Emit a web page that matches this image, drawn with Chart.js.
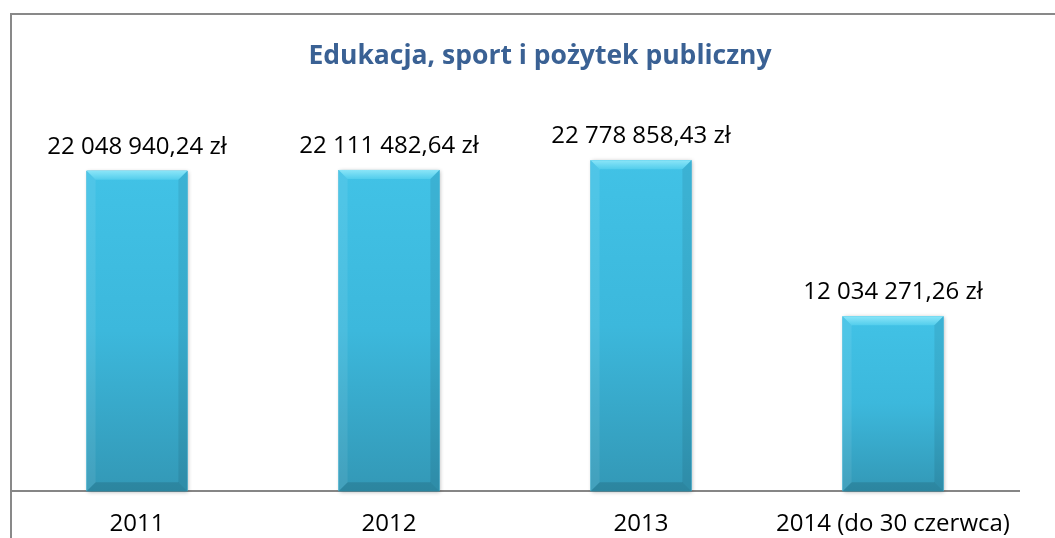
<!DOCTYPE html>
<html lang="pl">
<head>
<meta charset="utf-8">
<title>Edukacja, sport i pożytek publiczny</title>
<script src="https://cdn.jsdelivr.net/npm/chart.js@4"></script>
<style>
	html, body { margin: 0; padding: 0; background: #ffffff; }
	#wrap { position: relative; width: 1055px; height: 538px; }
</style>
</head>
<body>
<div id="wrap"><canvas id="wydatkiChart" width="1055" height="538"></canvas></div>
<script>
// Dane
const tytul = "Edukacja, sport i pożytek publiczny";
const lata = ["2011", "2012", "2013", "2014 (do 30 czerwca)"];
const kwoty = [22048940.24, 22111482.64, 22778858.43, 12034271.26];
const osY = { min: 0, max: 25000000 };

/**
 * Formatuje kwotę w stylu polskim, np. "22 048 940,24 zł".
 * @param {number} v
 * @returns {string}
 */
function formatZl(v) {
	const [calosc, grosze] = v.toFixed(2).split(".");
	return calosc.replace(/\B(?=(\d{3})+(?!\d))/g, " ") + "," + grosze + " zł";
}

// Ramka wykresu (lewa i górna krawędź) + tytuł
const ramka = {
	id: "ramka",
	beforeDraw(chart) {
		const ctx = chart.ctx;
		ctx.save();
		ctx.strokeStyle = "#898989";
		ctx.lineWidth = 2;
		ctx.beginPath();
		ctx.moveTo(11, chart.height);
		ctx.lineTo(11, 14);
		ctx.lineTo(chart.width, 14);
		ctx.stroke();

		ctx.fillStyle = "#3a6194";
		ctx.font = "bold 26.5px 'Open Sans'";
		ctx.textAlign = "center";
		ctx.textBaseline = "alphabetic";
		ctx.fillText(tytul, 540, 64);
		ctx.restore();
	},
};

// Cień pod słupkami
const cien = {
	id: "cien",
	beforeDatasetsDraw(chart) {
		const ctx = chart.ctx;
		ctx.save();
		chart.getDatasetMeta(0).data.forEach((bar) => {
			const w = bar.width;
			ctx.shadowColor = "rgba(0,0,0,0.3)";
			ctx.shadowBlur = 4;
			ctx.shadowOffsetX = 1;
			ctx.shadowOffsetY = 1;
			ctx.fillStyle = "#3cb6da";
			ctx.fillRect(bar.x - w / 2, bar.y, w, bar.base - bar.y);
		});
		ctx.restore();
	},
};

// Efekt fazowania słupków + etykiety z kwotami
const faza = {
	id: "faza",
	afterDatasetsDraw(chart) {
		const ctx = chart.ctx;
		const b = 9;
		ctx.save();
		chart.getDatasetMeta(0).data.forEach((bar, i) => {
			const l = bar.x - bar.width / 2;
			const r = bar.x + bar.width / 2;
			const t = bar.y;
			const d = bar.base;

			const g = ctx.createLinearGradient(0, t, 0, d);
			g.addColorStop(0, "#41c2e6");
			g.addColorStop(0.5, "#3cb8dc");
			g.addColorStop(1, "#3398b6");
			ctx.fillStyle = g;
			ctx.fillRect(l, t, r - l, d - t);

			// góra
			const gt = ctx.createLinearGradient(0, t, 0, t + b);
			gt.addColorStop(0, "#8ae5f8");
			gt.addColorStop(1, "#52cdec");
			ctx.fillStyle = gt;
			ctx.beginPath();
			ctx.moveTo(l, t);
			ctx.lineTo(r, t);
			ctx.lineTo(r - b, t + b);
			ctx.lineTo(l + b, t + b);
			ctx.closePath();
			ctx.fill();

			// lewa
			ctx.fillStyle = "rgba(255,255,255,0.08)";
			ctx.beginPath();
			ctx.moveTo(l, t);
			ctx.lineTo(l + b, t + b);
			ctx.lineTo(l + b, d - b);
			ctx.lineTo(l, d);
			ctx.closePath();
			ctx.fill();

			// prawa
			ctx.fillStyle = "rgba(0,0,0,0.08)";
			ctx.beginPath();
			ctx.moveTo(r, t);
			ctx.lineTo(r - b, t + b);
			ctx.lineTo(r - b, d - b);
			ctx.lineTo(r, d);
			ctx.closePath();
			ctx.fill();

			// dół
			ctx.fillStyle = "rgba(0,0,0,0.12)";
			ctx.beginPath();
			ctx.moveTo(l, d);
			ctx.lineTo(l + b, d - b);
			ctx.lineTo(r - b, d - b);
			ctx.lineTo(r, d);
			ctx.closePath();
			ctx.fill();

			// etykieta
			ctx.fillStyle = "#000000";
			ctx.font = "24px 'Open Sans'";
			ctx.textAlign = "center";
			ctx.textBaseline = "alphabetic";
			ctx.fillText(formatZl(kwoty[i]), bar.x, t - 17);
		});
		ctx.restore();
	},
};

document.addEventListener("DOMContentLoaded", function () {
	const ctx = document.getElementById("wydatkiChart");
	new Chart(ctx, {
		type: "bar",
		data: {
			labels: lata,
			datasets: [
				{
					data: kwoty,
					backgroundColor: "#3cb7db",
					borderWidth: 0,
					barPercentage: 0.4,
					categoryPercentage: 1,
				},
			],
		},
		options: {
			responsive: false,
			animation: false,
			layout: {
				padding: { left: 11, right: 36, top: 128, bottom: -20 },
			},
			scales: {
				x: {
					grid: { display: false, drawTicks: false },
					border: { display: true, color: "#868686", width: 2 },
					ticks: {
						color: "#000000",
						font: { family: "'Open Sans'", size: 24 },
						padding: 19,
						maxRotation: 0,
						autoSkip: false,
					},
				},
				y: {
					display: false,
					min: osY.min,
					max: osY.max,
				},
			},
			plugins: {
				legend: { display: false },
				tooltip: { enabled: false },
			},
		},
		plugins: [ramka, cien, faza],
	});
});
</script>
</body>
</html>
